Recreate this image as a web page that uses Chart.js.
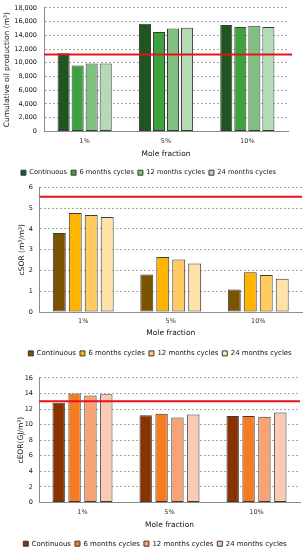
<!DOCTYPE html>
<html>
<head>
<meta charset="utf-8">
<script src="https://cdn.jsdelivr.net/npm/chart.js@4"></script>
<style>
  body { margin: 0; background: #fff; overflow: hidden; }
  .graphic { position: absolute; left: 0; }
</style>
</head>
<body>
<div class="graphic" id="g-oil"><canvas id="oil"></canvas></div>
<div class="graphic" id="g-csor"><canvas id="csor"></canvas></div>
<div class="graphic" id="g-ceor"><canvas id="ceor"></canvas></div>
<script>
const categories = ["1%", "5%", "10%"];
const seriesNames = ["Continuous", "6 months cycles", "12 months cycles", "24 months cycles"];

// cumulative oil production (m3)
const oilContinuous = [11400, 15700, 15500];
const oil6m = [9600, 14500, 15200];
const oil12m = [9900, 15000, 15400];
const oil24m = [9900, 15100, 15200];
const oilBase = 11200;

// cSOR (m3/m3)
const csorContinuous = [3.8, 1.8, 1.08];
const csor6m = [4.77, 2.65, 1.92];
const csor12m = [4.67, 2.53, 1.78];
const csor24m = [4.58, 2.33, 1.6];
const csorBase = 5.55;

// cEOR (GJ/m3)
const ceorContinuous = [12.8, 11.2, 11.1];
const ceor6m = [14.0, 11.4, 11.1];
const ceor12m = [13.75, 10.9, 11.0];
const ceor24m = [13.9, 11.3, 11.55];
const ceorBase = 13;

const FONT = "'DejaVu Sans', Verdana, sans-serif";
const TICK_SIZE = 6.5;
const TITLE_SIZE = 7.5;
const LEGEND_PAD = 4;
const LEGEND_EXTRA = 6.7; // space chart.js leaves under the legend row
const TEXT = "#111";

const refLine = {
  id: "refLine",
  afterDatasetsDraw(chart, args, opts) {
    const { ctx, chartArea } = chart;
    const y = chart.scales.y.getPixelForValue(opts.value);
    ctx.save();
    ctx.strokeStyle = "#e8121b";
    ctx.lineWidth = 2;
    ctx.beginPath();
    ctx.moveTo(chartArea.left, y);
    ctx.lineTo(chartArea.right + (opts.extra || 0), y);
    ctx.stroke();
    ctx.restore();
  },
};

// p = page positions
function renderGraphic(id, series, colors, base, yTitle, yMax, yStep, p) {
  const canvas = document.getElementById(id);
  const canvasTop = Math.floor(p.top - 9);
  const legendHalf = LEGEND_PAD + p.legendSize / 2;
  const height = Math.ceil(p.legend + legendHalf + LEGEND_EXTRA + 2 - canvasTop);
  canvas.width = 305;
  canvas.height = height;
  canvas.parentNode.style.top = canvasTop + "px";

  const padTop = p.top - canvasTop;
  const padBottom = canvasTop + height - (p.legend + legendHalf) - LEGEND_EXTRA;
  const axisBottom = p.legend - legendHalf;
  const xHeight = axisBottom - p.bottom;
  const titlePadBottom = axisBottom - p.title - (TITLE_SIZE * 1.2) / 2;
  const tickPad = p.ticks - (TICK_SIZE * 1.2) / 2 - p.bottom;

  const ctx = canvas.getContext("2d");

  new Chart(ctx, {
    type: "bar",
    data: {
      labels: categories,
      datasets: series.map((data, i) => ({
        label: seriesNames[i],
        data: data,
        backgroundColor: colors[i],
        borderColor: "#3a3a3a",
        borderWidth: 1,
        borderSkipped: false,
        categoryPercentage: p.cat,
        barPercentage: p.bar,
      })),
    },
    options: {
      responsive: false,
      animation: false,
      layout: { padding: { top: padTop, right: 305 - p.right, left: p.padLeft, bottom: padBottom } },
      plugins: {
        tooltip: { enabled: false },
        refLine: { value: base, extra: p.extra || 0 },
        legend: {
          position: "bottom",
          labels: {
            boxWidth: 5,
            boxHeight: 5,
            padding: LEGEND_PAD,
            color: TEXT,
            font: { family: FONT, size: p.legendSize },
          },
        },
      },
      scales: {
        x: {
          afterFit: (scale) => {
            scale.height = xHeight;
          },
          grid: { display: false, drawTicks: false },
          border: { display: true, color: "#8c8c8c", width: 1 },
          ticks: { color: "#333", padding: tickPad, font: { family: FONT, size: TICK_SIZE } },
          title: {
            display: true,
            text: "Mole fraction",
            color: TEXT,
            padding: { top: 0, bottom: titlePadBottom },
            font: { family: FONT, size: TITLE_SIZE },
          },
        },
        y: {
          min: 0,
          max: yMax,
          afterFit: (scale) => {
            scale.width = p.left - p.padLeft;
          },
          grid: { color: "#a8a8a8", drawTicks: false, lineWidth: 1 },
          border: { display: true, color: "#8c8c8c", dash: [2, 2] },
          ticks: {
            stepSize: yStep,
            color: TEXT,
            padding: p.tickGap,
            font: { family: FONT, size: TICK_SIZE },
            callback: (v) => v.toLocaleString("en-US"),
          },
          title: {
            display: true,
            text: yTitle,
            color: TEXT,
            padding: { top: p.yTitleX - p.padLeft - (TITLE_SIZE * 1.2) / 2, bottom: 0 },
            font: { family: FONT, size: TITLE_SIZE },
          },
        },
      },
    },
    plugins: [refLine],
  });
}

renderGraphic(
  "oil",
  [oilContinuous, oil6m, oil12m, oil24m],
  ["#1f561f", "#3da43d", "#80c080", "#b6d9b6"],
  oilBase,
  "Cumulative oil production (m³)",
  18000,
  2000,
  { top: 6.7, bottom: 130.7, ticks: 141, title: 153, legend: 172, left: 44, right: 288, padLeft: 9,
    legendSize: 6.7, tickGap: 7, yTitleX: 7, cat: 0.69, bar: 0.86, extra: 4 }
);

renderGraphic(
  "csor",
  [csorContinuous, csor6m, csor12m, csor24m],
  ["#7b5400", "#ffb400", "#ffcb62", "#ffe1a9"],
  csorBase,
  "cSOR (m³/m³)",
  6,
  1,
  { top: 186.7, bottom: 311.3, ticks: 321, title: 332.7, legend: 352.7, left: 39.5, right: 302, padLeft: 18,
    legendSize: 6.95, tickGap: 6.5, yTitleX: 21.7, cat: 0.73, bar: 0.81 }
);

renderGraphic(
  "ceor",
  [ceorContinuous, ceor6m, ceor12m, ceor24m],
  ["#8a3300", "#f57d20", "#f9a274", "#fcc9b5"],
  ceorBase,
  "cEOR(GJ/m³)",
  16,
  2,
  { top: 377.3, bottom: 501.7, ticks: 511.7, title: 524, legend: 543, left: 39, right: 300, padLeft: 10,
    legendSize: 6.95, tickGap: 6, yTitleX: 20.7, cat: 0.73, bar: 0.78 }
);
</script>
</body>
</html>
